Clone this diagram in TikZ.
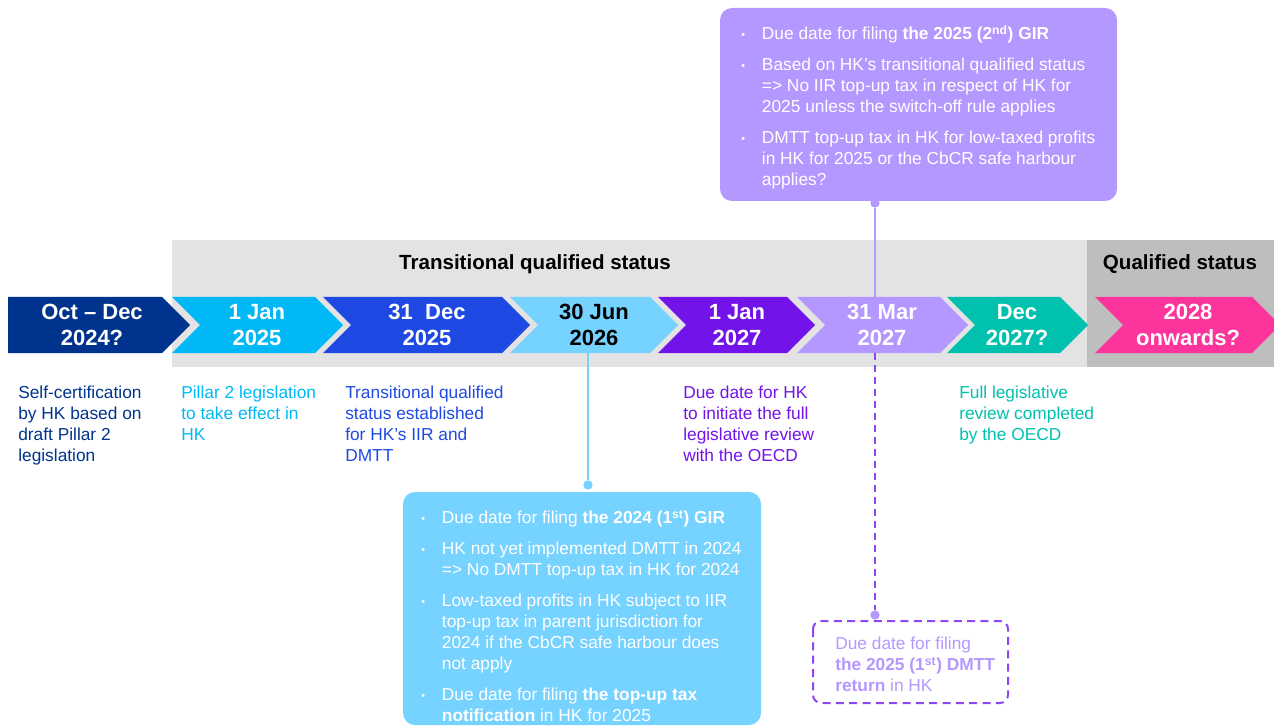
\documentclass[tikz,border=0pt]{standalone}
\usepackage{fontspec}
\setmainfont{Liberation Sans}
\definecolor{navy}{HTML}{00338D}
\definecolor{cyan}{HTML}{00B8F5}
\definecolor{royal}{HTML}{1E49E2}
\definecolor{skyblue}{HTML}{76D2FF}
\definecolor{violet}{HTML}{7213EA}
\definecolor{lilac}{HTML}{B497FF}
\definecolor{teal}{HTML}{00C0AE}
\definecolor{pink}{HTML}{FD349C}
\definecolor{bandgrey}{HTML}{E3E3E3}
\definecolor{qualgrey}{HTML}{BEBEBE}
\newcommand{\bul}{\makebox[15.5pt][l]{\raisebox{1pt}{\footnotesize\textbullet}}}
\newcommand{\ind}{\hspace*{15.5pt}}
\begin{document}
\begin{tikzpicture}[x=0.75pt,y=-0.75pt,
    date/.style={font=\fontsize{16.5}{19.5}\selectfont\bfseries, text=white, align=center},
    head/.style={font=\fontsize{15.4}{18}\selectfont\bfseries},
    note/.style={font=\fontsize{13}{15.75}\selectfont, align=left, anchor=north west, inner sep=0pt},
    dot/.style={circle, inner sep=0pt, minimum size=7pt, fill=#1}]
    \useasboundingbox (0,0) rectangle (1274,727);
    \clip (0,0) rectangle (1274,727);

    % status bands
    \fill[bandgrey] (172,240) rectangle (1087,367);
    \fill[qualgrey] (1087,240) rectangle (1274,367);
    \node[head] (transhead) at (535,264) {Transitional qualified status};
    \node[head] (qualhead) at (1180,264) {Qualified status};

    % chevrons
    \fill[navy] (8,297) -- (162,297) -- (190,325) -- (162,353) -- (8,353) -- cycle;
    \node[date] (oct24) at (92,325) {Oct -- Dec\\2024?};

    \fill[cyan] (172,297) -- (315,297) -- (343,325) -- (315,353) -- (172,353) -- (200,325) -- cycle;
    \node[date] (jan25) at (257,325) {1 Jan\\2025};

    \fill[royal] (323,297) -- (502,297) -- (530,325) -- (502,353) -- (323,353) -- (351,325) -- cycle;
    \node[date] (dec25) at (427,325) {31~ Dec\\2025};

    \fill[skyblue] (510,297) -- (650,297) -- (678,325) -- (650,353) -- (510,353) -- (538,325) -- cycle;
    \node[date, text=black] (jun26) at (594,325) {30 Jun\\2026};

    \fill[violet] (658,297) -- (787,297) -- (815,325) -- (787,353) -- (658,353) -- (686,325) -- cycle;
    \node[date] (jan27) at (737,325) {1 Jan\\2027};

    \fill[lilac] (797,297) -- (940,297) -- (968,325) -- (940,353) -- (797,353) -- (825,325) -- cycle;
    \node[date] (mar27) at (882,325) {31 Mar\\2027};

    \fill[teal] (947,297) -- (1060,297) -- (1088,325) -- (1060,353) -- (947,353) -- (975,325) -- cycle;
    \node[date] (dec27) at (1017,325) {Dec\\2027?};

    \fill[pink] (1095,297) -- (1252,297) -- (1280,325) -- (1252,353) -- (1095,353) -- (1123,325) -- cycle;
    \node[date] (onw28) at (1188,325) {2028\\onwards?};

    % notes below the timeline
    \node[note, text=navy] (selfcert) at (18,386) {Self-certification\\by HK based on\\draft Pillar 2\\legislation};
    \node[note, text=cyan] (effect) at (181,386) {Pillar 2 legislation\\to take effect in\\HK};
    \node[note, text=royal] (established) at (345,386) {Transitional qualified\\status established\\for HK’s IIR and\\DMTT};
    \node[note, text=violet] (initiate) at (683,386) {Due date for HK\\to initiate the full\\legislative review\\with the OECD};
    \node[note, text=teal] (completed) at (959,386) {Full legislative\\review completed\\by the OECD};

    % 2025 GIR box
    \fill[lilac, rounded corners=9pt] (720,8) rectangle (1117,201);
    \node[note, text=white] (gir25) at (741,25) {\bul Due date for filing \textbf{the 2025 (2\textsuperscript{nd}) GIR}\\[7.5pt]
        \bul Based on HK’s transitional qualified status\\
        \ind => No IIR top-up tax in respect of HK for\\
        \ind 2025 unless the switch-off rule applies\\[7.5pt]
        \bul DMTT top-up tax in HK for low-taxed profits\\
        \ind in HK for 2025 or the CbCR safe harbour\\
        \ind applies?};
    \node[dot=lilac] (gir25dot) at (875,203) {};
    \coordinate (mar27top) at (875,297);
    \draw[lilac, line width=0.9pt] (gir25dot) -- (mar27top);

    % 2024 GIR box
    \fill[skyblue, rounded corners=9pt] (403,492) rectangle (761,725);
    \node[note, text=white] (gir24) at (421,510) {\bul Due date for filing \textbf{the 2024 (1\textsuperscript{st}) GIR}\\[7.5pt]
        \bul HK not yet implemented DMTT in 2024\\
        \ind => No DMTT top-up tax in HK for 2024\\[7.5pt]
        \bul Low-taxed profits in HK subject to IIR\\
        \ind top-up tax in parent jurisdiction for\\
        \ind 2024 if the CbCR safe harbour does\\
        \ind not apply\\[7.5pt]
        \bul Due date for filing \textbf{the top-up tax}\\
        \ind \textbf{notification} in HK for 2025};
    \node[dot=skyblue] (gir24dot) at (588,485) {};
    \coordinate (jun26foot) at (588,353);
    \draw[skyblue, line width=0.9pt] (jun26foot) -- (gir24dot);

    % DMTT return box
    \draw[violet!60!lilac, line width=1.5pt, dash pattern=on 6pt off 4pt, rounded corners=6pt] (813,621) rectangle (1008,703);
    \node[note, text=lilac] (dmtt) at (835,637) {Due date for filing\\\textbf{the 2025 (1\textsuperscript{st}) DMTT}\\\textbf{return} in HK};
    \node[dot=lilac] (dmttdot) at (875,615) {};
    \coordinate (mar27foot) at (875,353);
    \draw[violet!60!lilac, line width=0.9pt, dash pattern=on 5pt off 4pt] (mar27foot) -- (dmttdot);
\end{tikzpicture}
\end{document}
